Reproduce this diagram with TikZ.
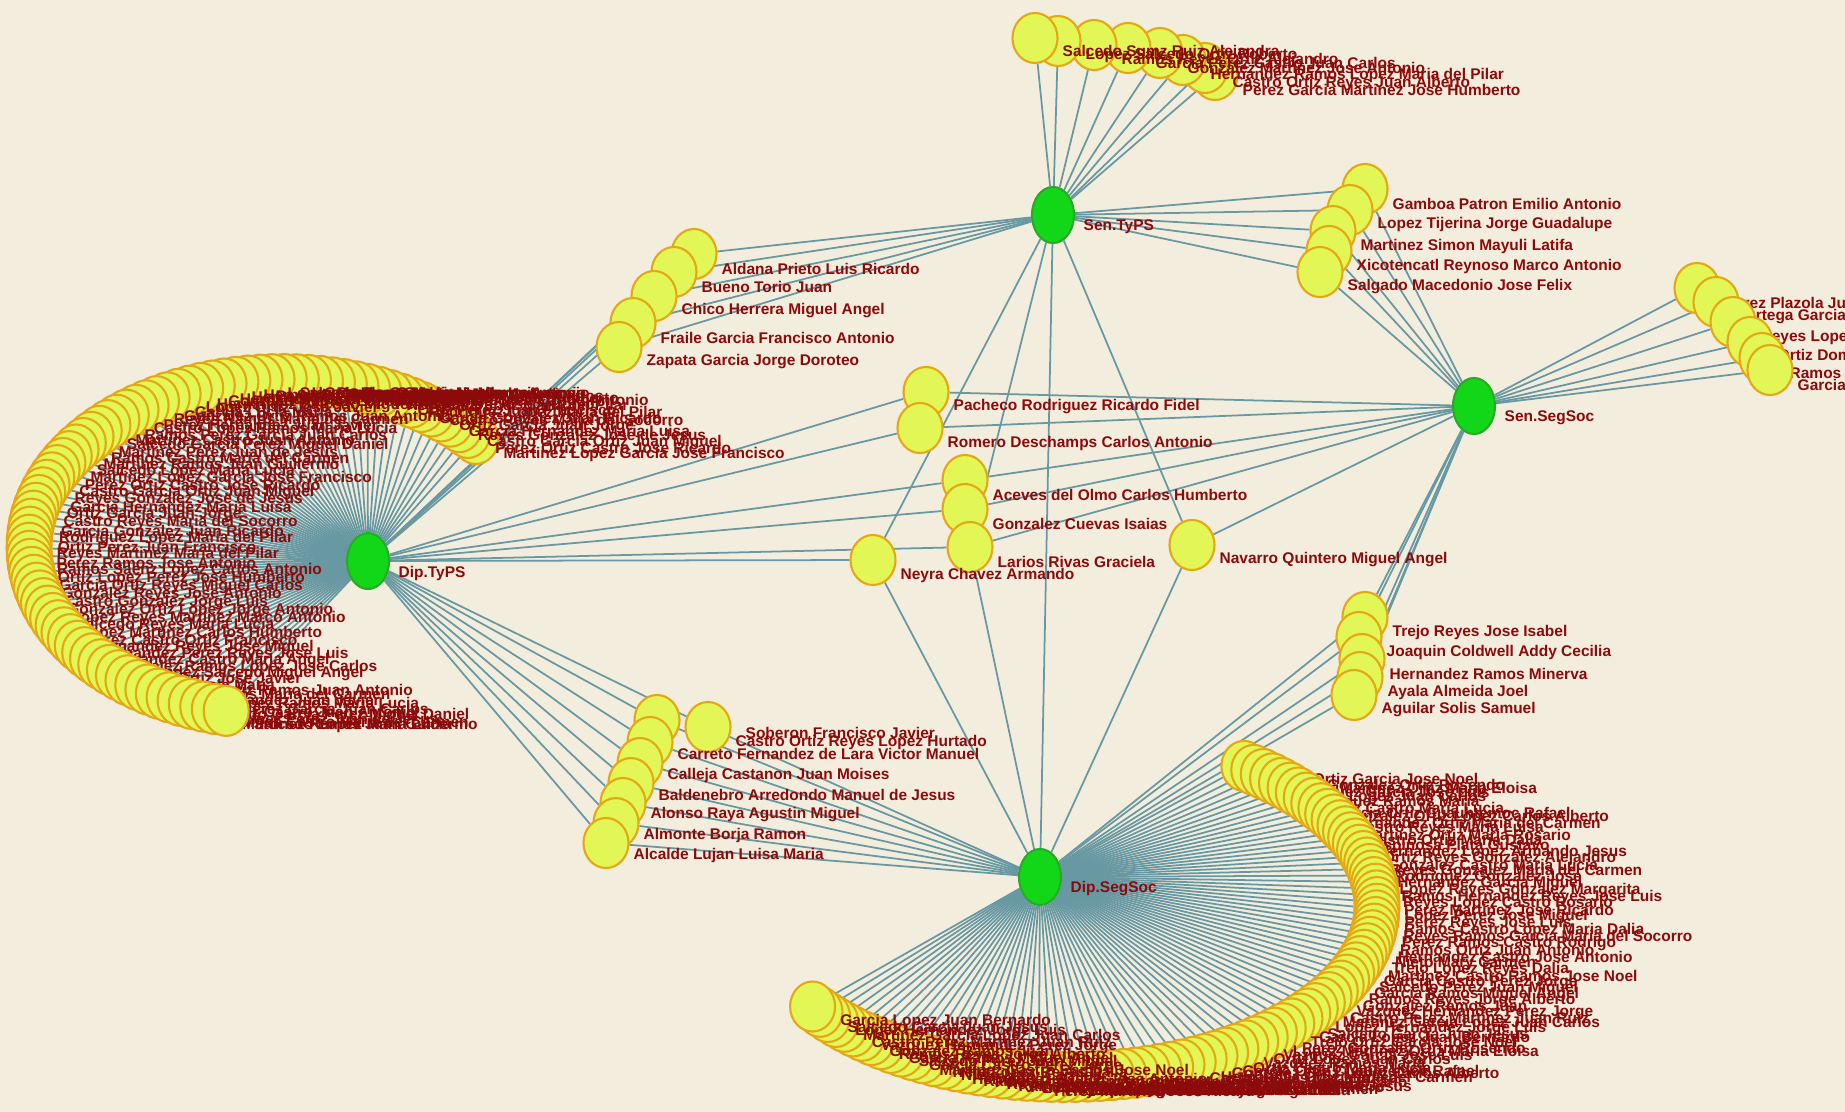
\documentclass[tikz,border=0pt]{standalone}
\usepackage{fontspec}
\setmainfont{Liberation Sans}
\usetikzlibrary{shapes.geometric}
\definecolor{paper}{RGB}{243,237,222}
\definecolor{limefill}{RGB}{226,247,86}
\definecolor{limeedge}{RGB}{228,168,20}
\definecolor{hubfill}{RGB}{18,214,24}
\definecolor{hubedge}{RGB}{40,170,40}
\definecolor{linkcol}{RGB}{104,152,162}
\definecolor{namecol}{RGB}{140,10,10}
\pgfdeclarelayer{paperlayer}
\pgfdeclarelayer{links}
\pgfsetlayers{paperlayer,links,main}
\newcommand{\dtnames}{{"Martinez Lopez Garcia Jose Francisco","Hernandez Perez Reyes Jose Luis",
	"Castro Reyes Maria del Socorro","Gonzalez Ortiz Ramos Juan Antonio","Ramos Saenz Lopez Carlos Antonio",
	"Salcedo Garcia Perez Miguel Daniel","Lopez Reyes Martinez Marco Antonio","Perez Ortiz Castro Jose Ricardo",
	"Hernandez Castro Maria Angel","Garcia Gonzalez Juan Ricardo","Reyes Ramos Maria del Carmen",
	"Ortiz Lopez Perez Jose Humberto","Martinez Perez Juan de Jesus","Salcedo Reyes Maria Lucia",
	"Castro Garcia Ortiz Juan Miguel","Gonzalez Ramos Lopez Jose Carlos","Rodriguez Lopez Maria del Pilar",
	"Perez Hernandez Juan Javier","Garcia Ortiz Reyes Miguel Carlos","Ramos Castro Maria del Carmen",
	"Lopez Martinez Carlos Humberto","Reyes Gonzalez Jose de Jesus","Hernandez Salcedo Miguel Angel",
	"Ortiz Perez Juan Francisco","Castro Lopez Ramos Maria Lucia","Gonzalez Reyes Jose Antonio",
	"Martinez Ramos Juan Guillermo","Perez Castro Ortiz Francisco","Garcia Hernandez Maria Luisa",
	"Lopez Ortiz Jose Javier","Reyes Martinez Maria del Pilar","Ramos Perez Garcia Juan Carlos",
	"Castro Gonzalez Jorge Luis","Salcedo Lopez Maria Lucia","Hernandez Reyes Jose Miguel",
	"Ortiz Garcia Juan Jorge","Garcia Lucia Maria","Perez Ramos Jose Antonio",
	"Martinez Castro Juan Antonio","Gonzalez Ortiz Lopez Jorge Antonio"}}
\newcommand{\dbnames}{{"Trejo Ortiz Garcia Jose Noel","Espinosa Plata Gustavo",
	"Ramos Castro Lopez Maria Dalia","Vazquez Hernandez Perez Jorge","Garcia Ortiz Cuauhtemoc Rafael",
	"Lopez Reyes Gonzalez Margarita","Martinez Castro Ramos Jose Noel","Perez Gonzalez Ortiz Rosendo",
	"Hernandez Lopez Armando Jesus","Reyes Ramos Garcia Maria del Socorro","Castro Perez Martinez Juan Ruiz",
	"Gonzalez Ortiz Lopez Carlos Alberto","Ramos Hernandez Reyes Jose Luis","Garcia Castro Perez Jorge",
	"Lopez Martinez Ortiz Maria Eloisa","Ortiz Reyes Gonzalez Alejandro","Perez Ramos Castro Rodrigo",
	"Martinez Garcia Lopez Juan Carlos","Hernandez Ortiz Maria del Carmen","Reyes Lopez Castro Rosario",
	"Salcedo Perez Juan Miguel","Vazquez Garcia Jose Luis","Gonzalez Castro Maria Lucia",
	"Ramos Ortiz Juan Antonio","Lopez Hernandez Jorge Luis","Castro Reyes Maria Luisa",
	"Perez Martinez Jose Ricardo","Garcia Ramos Miguel Angel","Ortiz Lopez Juan Carlos",
	"Reyes Gonzalez Maria del Carmen","Hernandez Castro Jose Antonio","Salcedo Garcia Juan Jesus",
	"Martinez Ortiz Maria Rosario","Lopez Perez Jose Miguel","Ramos Reyes Jorge Alberto",
	"Vazquez Ramos Maria","Rodriguez Gonzalez Jose","Nieto Mary Carmen","Garcia Lopez Juan Bernardo",
	"Castro Ortiz Maria Dalia","Perez Reyes Jose Luis","Gonzalez Ramos Juan",
	"Ortiz Castro Maria Lucia","Hernandez Garcia Miguel","Trejo Lopez Reyes Dalia"}}

\begin{document}
\begin{tikzpicture}[x=0.01cm, y=-0.01cm,
  member/.style={ellipse, draw=limeedge, fill=limefill, line width=0.6pt,
    minimum width=0.45cm, minimum height=0.5cm, inner sep=0pt},
  hub/.style={ellipse, draw=hubedge, fill=hubfill, line width=0.6pt,
    minimum width=0.42cm, minimum height=0.56cm, inner sep=0pt},
  who/.style={text=namecol, font=\fontsize{4.4}{5}\selectfont\bfseries,
    inner sep=0pt, anchor=west},
  link/.style={draw=linkcol, line width=0.5pt}]

	\useasboundingbox (0,0) rectangle (1845,1112);
	\begin{pgfonlayer}{paperlayer}
		\fill[paper] (0,0) rectangle (1845,1112);
	\end{pgfonlayer}

	% Dip.TyPS ring
	\foreach \k in {0,...,79} {
		\pgfmathsetmacro{\ang}{40+\k*2.75}
		\pgfmathparse{\dtnames[int(mod(\k*7,40))]}
		\let\nm\pgfmathresult
		\node[member] (dt\k) at ({282+253*cos(\ang)},{547-168*sin(\ang)}) {};
		\node[who] (dt\k-n) at ([shift={(27,15)}]dt\k.center) {\nm};
	}

	% Dip.SegSoc ring
	\foreach \k in {0,...,89} {
		\pgfmathsetmacro{\ang}{55-\k*2.236}
		\pgfmathparse{\dbnames[int(mod(\k*7,45))]}
		\let\nm\pgfmathresult
		\node[member] (db\k) at ({1065+312*cos(\ang)},{906-171*sin(\ang)}) {};
		\node[who] (db\k-n) at ([shift={(27,15)}]db\k.center) {\nm};
	}

	% senators on top
	\foreach \px/\py/\nm [count=\k] in {1215/75/Perez Garcia Martinez Jose Humberto,
		1205/68/Castro Ortiz Reyes Juan Alberto, 1183/60/Hernandez Ramos Lopez Maria del Pilar,
		1160/53/Gonzalez Martinez Jose Antonio, 1128/48/Garcia Perez Castro Juan Carlos,
		1094/45/Ramos Reyes Ortiz Alejandro, 1058/41/Lopez Salcedo Ortiz Roberto,
		1035/38/Salcedo Sumz Ruiz Alejandra} {
		\node[member] (tp\k) at (\px,\py) {};
		\node[who] (tp\k-n) at ([shift={(27,15)}]tp\k.center) {\nm};
	}

	% senators on the right
	\foreach \px/\py/\nm [count=\k] in {1697/288/Perez Plazola Juan, 1716/302/Ortega Garcia Jorge,
		1733/322/Reyes Lopez Maria, 1750/342/Ortiz Dominguez Jose, 1762/358/Ramos Castro Juan,
		1770/370/Garcia Ortiz Luis} {
		\node[member] (rt\k) at (\px,\py) {};
		\node[who] (rt\k-n) at ([shift={(27,15)}]rt\k.center) {\nm};
	}

	% Aldana group
	\foreach \px/\py/\nm [count=\k] in {694/254/Aldana Prieto Luis Ricardo, 674/272/Bueno Torio Juan,
		654/296/Chico Herrera Miguel Angel, 633/323/Fraile Garcia Francisco Antonio,
		619/347/Zapata Garcia Jorge Doroteo} {
		\node[member] (al\k) at (\px,\py) {};
		\node[who] (al\k-n) at ([shift={(27,15)}]al\k.center) {\nm};
	}

	% Gamboa group
	\foreach \px/\py/\nm [count=\k] in {1365/189/Gamboa Patron Emilio Antonio,
		1350/210/Lopez Tijerina Jorge Guadalupe, 1333/231/Martinez Simon Mayuli Latifa,
		1329/251/Xicotencatl Reynoso Marco Antonio, 1320/272/Salgado Macedonio Jose Felix} {
		\node[member] (gb\k) at (\px,\py) {};
		\node[who] (gb\k-n) at ([shift={(27,15)}]gb\k.center) {\nm};
	}

	% Trejo group
	\foreach \px/\py/\nm [count=\k] in {1365/617/Trejo Reyes Jose Isabel,
		1359/637/Joaquin Coldwell Addy Cecilia, 1362/659/Hernandez Ramos Minerva,
		1360/677/Ayala Almeida Joel, 1354/695/Aguilar Solis Samuel} {
		\node[member] (tr\k) at (\px,\py) {};
		\node[who] (tr\k-n) at ([shift={(27,15)}]tr\k.center) {\nm};
	}

	% Calleja group
	\node[member] (cc1) at (657,720) {};
	\node[who] (cc1-n) at (745,733) {Soberon Francisco Javier};
	\node[member] (cc2) at (708,727) {};
	\node[who] (cc2-n) at (735,742) {Castro Ortiz Reyes Lopez Hurtado};
	\foreach \px/\py/\nm [count=\k from 3] in {650/742/Carreto Fernandez de Lara Victor Manuel,
		640/763/Calleja Castanon Juan Moises, 631/783/Baldenebro Arredondo Manuel de Jesus,
		623/803/Alonso Raya Agustin Miguel, 616/823/Almonte Borja Ramon,
		606/843/Alcalde Lujan Luisa Maria} {
		\node[member] (cc\k) at (\px,\py) {};
		\node[who] (cc\k-n) at ([shift={(27,12)}]cc\k.center) {\nm};
	}

	% middle
	\foreach \px/\py/\id/\nm in {926/392/pacheco/Pacheco Rodriguez Ricardo Fidel,
		920/428/romero/Romero Deschamps Carlos Antonio, 965/480/aceves/Aceves del Olmo Carlos Humberto,
		965/509/gonzalez/Gonzalez Cuevas Isaias, 970/547/larios/Larios Rivas Graciela,
		873/560/neyra/Neyra Chavez Armando, 1192/545/navarro/Navarro Quintero Miguel Angel} {
		\node[member] (\id) at (\px,\py) {};
		\node[who] (\id-n) at ([shift={(27,15)}]\id.center) {\nm};
	}

	% hubs
	\foreach \px/\py/\id/\nm in {1053/215/st/Sen.TyPS, 368/561/dt/Dip.TyPS,
		1474/406/sss/Sen.SegSoc, 1040/877/dss/Dip.SegSoc} {
		\node[hub] (\id) at (\px,\py) {};
		\node[who] (\id-n) at ([shift={(30,12)}]\id.center) {\nm};
	}

	% links
	\begin{pgfonlayer}{links}
		\foreach \k in {0,...,79} \draw[link] (dt) -- (dt\k);
		\foreach \k in {0,...,89} \draw[link] (dss) -- (db\k);
		\foreach \k in {1,...,8} \draw[link] (st) -- (tp\k);
		\foreach \k in {1,...,6} \draw[link] (sss) -- (rt\k);
		\foreach \k in {1,...,5} {
			\draw[link] (st) -- (al\k);
			\draw[link] (dt) -- (al\k);
			\draw[link] (st) -- (gb\k);
			\draw[link] (sss) -- (gb\k);
			\draw[link] (sss) -- (tr\k);
			\draw[link] (dss) -- (tr\k);
		}
		\foreach \k in {1,...,8} {
			\draw[link] (dt) -- (cc\k);
			\draw[link] (dss) -- (cc\k);
		}
		\foreach \m in {pacheco,romero,aceves,gonzalez,larios,neyra} \draw[link] (dt) -- (\m);
		\foreach \m in {pacheco,romero,aceves,gonzalez,larios,navarro} \draw[link] (sss) -- (\m);
		\foreach \m in {neyra,larios,navarro,dss} \draw[link] (st) -- (\m);
		\foreach \m in {neyra,larios,navarro} \draw[link] (dss) -- (\m);
	\end{pgfonlayer}

\end{tikzpicture}
\end{document}
